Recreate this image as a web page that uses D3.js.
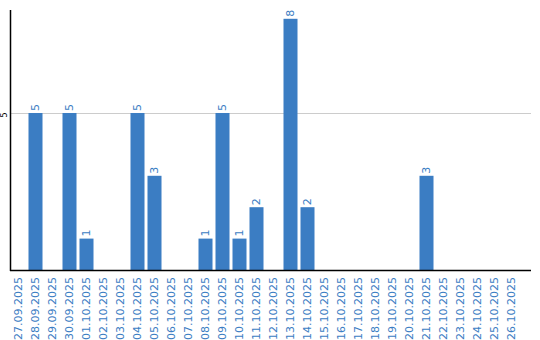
<!DOCTYPE html>
<html>
<head>
<meta charset="utf-8">
<script src="https://cdn.jsdelivr.net/npm/d3@7"></script>
<style>
body { margin: 0; background: #fff; }
svg { display: block; }
</style>
</head>
<body>
<div id="chart"></div>
<script>
// data
var days = ["27.09.2025","28.09.2025","29.09.2025","30.09.2025","01.10.2025","02.10.2025",
	"03.10.2025","04.10.2025","05.10.2025","06.10.2025","07.10.2025","08.10.2025",
	"09.10.2025","10.10.2025","11.10.2025","12.10.2025","13.10.2025","14.10.2025",
	"15.10.2025","16.10.2025","17.10.2025","18.10.2025","19.10.2025","20.10.2025",
	"21.10.2025","22.10.2025","23.10.2025","24.10.2025","25.10.2025","26.10.2025"];
var counts = [0,5,0,5,1,0,0,5,3,0,0,1,5,1,2,0,8,2,0,0,0,0,0,0,3,0,0,0,0,0];
var yTicks = [5];

var width = 540, height = 340,
	mLeft = 10, mRight = 531, mTop = 10, mBottom = 270,
	blue = "#3b7dc3";

var svg = d3.select("#chart").append("svg")
	.attr("width", width)
	.attr("height", height);

var x = d3.scaleBand().domain(days).range([mLeft, mLeft + 17*days.length]).paddingInner(3/17).paddingOuter(3/34);
var y = d3.scaleLinear().domain([0, 8.28]).range([mBottom, mTop]);

// grid
svg.selectAll(".grid").data(yTicks).enter().append("line")
	.attr("x1", mLeft).attr("x2", mRight)
	.attr("y1", function(d){ return Math.round(y(d)) + 0.5 })
	.attr("y2", function(d){ return Math.round(y(d)) + 0.5 })
	.style("stroke", "#cccccc").style("stroke-width", 1);

svg.selectAll(".ytick").data(yTicks).enter().append("text")
	.attr("transform", function(d){ return "translate(7," + (y(d) + 2) + ")rotate(-90)" })
	.attr("text-anchor", "middle")
	.style("font-family", "DejaVu Sans").style("font-size", "8px").style("fill", "#000")
	.text(function(d){ return d });

// bars
var bars = counts.map(function(v, i){ return {day: days[i], v: v} });

svg.selectAll(".bar").data(bars).enter().append("rect")
	.attr("x", function(d){ return x(d.day) })
	.attr("y", function(d){ return y(d.v) })
	.attr("width", x.bandwidth())
	.attr("height", function(d){ return mBottom - y(d.v) })
	.style("fill", blue);

svg.selectAll(".val").data(bars.filter(function(d){ return d.v > 0 })).enter().append("text")
	.attr("transform", function(d){ return "translate(" + (x(d.day) + x.bandwidth()/2) + "," + (y(d.v) - 2) + ")rotate(-90)" })
	.attr("dy", "0.35em")
	.style("font-family", "DejaVu Sans").style("font-size", "11px").style("fill", blue)
	.text(function(d){ return d.v });

// axes lines
svg.append("line").attr("x1", mLeft + 0.5).attr("x2", mLeft + 0.5).attr("y1", mTop).attr("y2", mBottom + 1)
	.style("stroke", "#000").style("stroke-width", 1.5);
svg.append("line").attr("x1", mLeft).attr("x2", mRight).attr("y1", mBottom + 0.5).attr("y2", mBottom + 0.5)
	.style("stroke", "#000").style("stroke-width", 1.5);

// x labels
svg.selectAll(".xlab").data(days).enter().append("text")
	.attr("transform", function(d){ return "translate(" + (x(d) + x.bandwidth()/2) + ",277)rotate(-90)" })
	.attr("text-anchor", "end")
	.attr("dy", "0.35em")
	.style("font-family", "DejaVu Sans").style("font-size", "11px").style("fill", blue)
	.text(function(d){ return d });
</script>
</body>
</html>
